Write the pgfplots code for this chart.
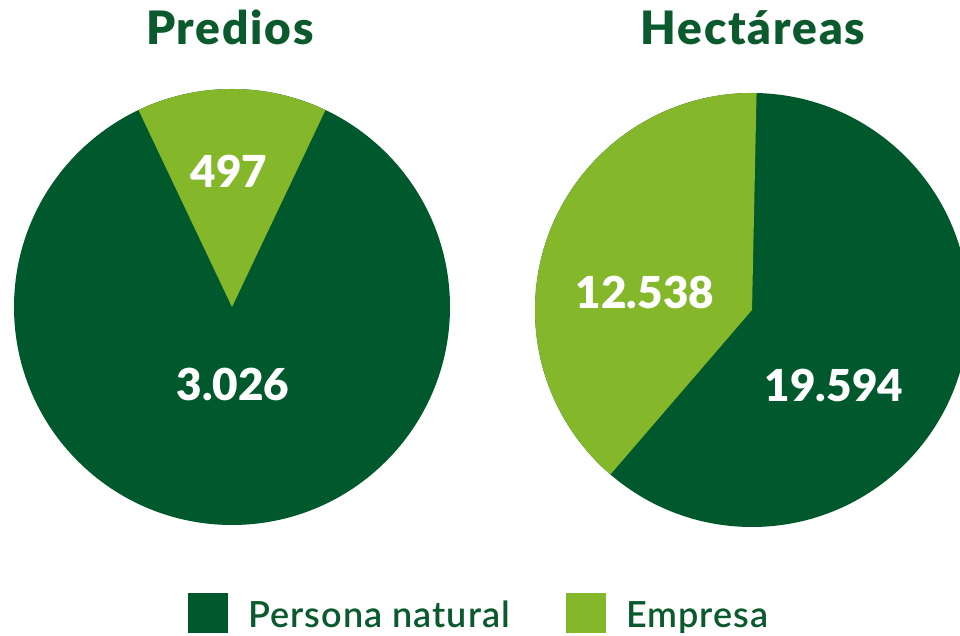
\documentclass[border=0pt]{standalone}
\usepackage{fontspec}
\setmainfont{Lato}
\newfontfamily\heavy{Lato Black}
\newfontfamily\heavytitle{Lato Black}[LetterSpace=4]
\newfontfamily\semi{Lato Semibold}[LetterSpace=3]
\usepackage{pgfplots}
\usepackage{pgfplotstable}
\pgfplotsset{compat=1.18}
\definecolor{persona}{HTML}{00592D}
\definecolor{empresa}{HTML}{84B82A}
\definecolor{titulo}{HTML}{0B5A2E}

% predios y hectareas por tipo de propietario
\pgfplotstableread{
tipo predios hectareas
Persona 3026 19594
Empresa 497 12538
}\datos

\begin{document}
\begin{tikzpicture}
\pgfplotstablegetelem{0}{predios}\of\datos \edef\pPer{\pgfplotsretval}
\pgfplotstablegetelem{1}{predios}\of\datos \edef\pEmp{\pgfplotsretval}
\pgfplotstablegetelem{0}{hectareas}\of\datos \edef\hPer{\pgfplotsretval}
\pgfplotstablegetelem{1}{hectareas}\of\datos \edef\hEmp{\pgfplotsretval}
% angle of each Empresa wedge
\edef\aP{\fpeval{360*\pEmp/(\pPer+\pEmp)}}
\edef\aH{\fpeval{360*\hEmp/(\hPer+\hEmp)}}
\edef\pStart{\fpeval{90-\aP/2}}
\edef\pEnd{\fpeval{90+\aP/2}}
\edef\hStart{88.8}
\edef\hEnd{\fpeval{88.8+\aH}}
\pgfkeys{/pgf/number format/.cd, use comma, 1000 sep={.}, assume math mode=true}
\begin{axis}[
    name=ax,
    x=1pt, y=1pt,
    xmin=0, xmax=960, ymin=0, ymax=636,
    hide axis, clip=false,
    legend columns=2,
    legend image code/.code={\fill[#1, draw=none] (0pt,-18pt) rectangle (40pt,22pt);},
    legend style={at={(axis cs:188,3)}, anchor=south west, draw=none,
                  fill=none, inner sep=0pt, outer sep=0pt,
                  font=\semi\fontsize{36}{40}\selectfont, text=titulo,
                  nodes={inner sep=0pt},
                  /tikz/every odd column/.append style={column sep=20pt},
                  /tikz/every even column/.append style={column sep=56pt}},
  ]
  \addlegendimage{fill=persona}
  \addlegendentry{Persona natural}
  \addlegendimage{fill=empresa}
  \addlegendentry{Empresa}

  % Predios
  \fill[persona] (axis cs:232,329) circle[radius=218pt];
  \fill[empresa] (axis cs:232,329) -- ++(\pStart:218pt)
      arc[start angle=\pStart, end angle=\pEnd, radius=218pt] -- cycle;
  % Hectareas
  \fill[persona] (axis cs:752,326) circle[radius=217pt];
  \fill[empresa] (axis cs:752,326) -- ++(\hStart:217pt)
      arc[start angle=\hStart, end angle=\hEnd, radius=217pt] -- cycle;

  \node[anchor=base, text=titulo, font=\heavytitle\fontsize{46}{50}\selectfont]
      at (axis cs:230,591) {Predios};
  \node[anchor=base, text=titulo, font=\heavytitle\fontsize{46}{50}\selectfont]
      at (axis cs:753,591) {Hectáreas};

  \begin{scope}[every node/.style={text=white, font=\heavy\fontsize{44}{50}\selectfont}]
    \node at (axis cs:229,465) {\pgfmathprintnumber{\pEmp}};
    \node at (axis cs:233,252) {\pgfmathprintnumber{\pPer}};
    \node at (axis cs:645,344) {\pgfmathprintnumber{\hEmp}};
    \node at (axis cs:834,251) {\pgfmathprintnumber{\hPer}};
  \end{scope}
\end{axis}
\pgfresetboundingbox
\path[use as bounding box] (ax.south west) rectangle (ax.north east);
\end{tikzpicture}
\end{document}
